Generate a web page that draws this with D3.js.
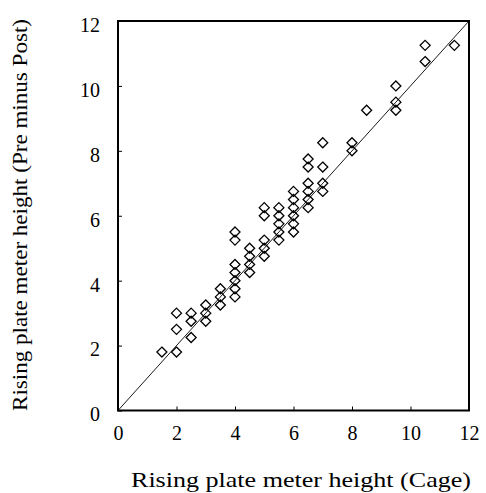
<!DOCTYPE html>
<html>
<head>
<meta charset="utf-8">
<script src="https://cdn.jsdelivr.net/npm/d3@7"></script>
<style>
body{margin:0;background:#fff;}
.tick text{font-family:"Liberation Serif",serif !important;font-size:20px !important;}
</style>
</head>
<body>
<svg id="chart" width="486" height="493"></svg>
<script>
// cage height vs pre-minus-post height
let cage=[1.5,2,2,2,2.5,2.5,2.5,3,3,3,3.5,3.5,3.5,4,4,4,4,4,4,4,4.5,4.5,4.5,4.5,5,5,5,5,5,5.5,5.5,5.5,5.5,5.5,6,6,6,6,6,6,6.5,6.5,6.5,6.5,6.5,6.5,7,7,7,7,8,8,8.5,9.5,9.5,9.5,10.5,10.5,11.5];
let preMinusPost=[1.8,1.8,2.5,3,2.25,2.75,3,2.75,3,3.25,3.25,3.5,3.75,3.5,3.75,4,4.25,4.5,5.25,5.5,4.25,4.5,4.75,5,4.75,5,5.25,6,6.25,5.25,5.5,5.75,6,6.25,5.5,5.75,6,6.25,6.5,6.75,6.25,6.5,6.75,7,7.5,7.75,6.75,7,7.5,8.25,8,8.25,9.25,9.25,9.5,10,10.75,11.25,11.25];
let ticks=[0,2,4,6,8,10,12];
let xTitle="Rising plate meter height (Cage)";
let yTitle="Rising plate meter height (Pre minus Post)";
const FONT="'Liberation Serif', 'Times New Roman', serif";

const render=()=>{
  let svg=d3.select("#chart");
  let x=d3.scaleLinear().domain([0,12]).range([118,469]);
  let y=d3.scaleLinear().domain([0,12]).range([410.5,21]);

  // 1:1 line
  svg.append("line")
    .attr("x1",x(0)).attr("y1",y(0))
    .attr("x2",x(12)).attr("y2",y(12))
    .attr("stroke","#000").attr("stroke-width",0.9);

  let pts=cage.map((c,i)=>({x:c,y:preMinusPost[i]}));
  svg.append("g")
    .selectAll("path")
    .data(pts)
    .enter()
      .append("path")
      .attr("transform",(d)=>`translate(${x(d.x)},${y(d.y)})`)
      .attr("d","M0,-5L5,0L0,5L-5,0Z")
      .attr("fill","none")
      .attr("stroke","#000")
      .attr("stroke-width",1.3);

  let xAxis=svg.append("g")
    .attr("transform",`translate(0,${y(0)})`)
    .call(d3.axisBottom(x).tickValues(ticks).tickSizeInner(-4).tickSizeOuter(0).tickPadding(15));
  let yAxis=svg.append("g")
    .attr("transform",`translate(${x(0)},0)`)
    .call(d3.axisLeft(y).tickValues(ticks).tickSizeInner(-4).tickSizeOuter(0).tickPadding(18));
  [xAxis,yAxis].forEach((a)=>{
    a.attr("font-family","Liberation Serif").attr("font-size",20);
    a.select(".domain").remove();
    a.selectAll("text").attr("fill","#000");
    a.selectAll("line").attr("stroke","#000");
  });
  yAxis.selectAll("text").attr("y",4);

  svg.append("rect")
    .attr("x",x(0)).attr("y",y(12))
    .attr("width",x(12)-x(0)).attr("height",y(0)-y(12))
    .attr("fill","none").attr("stroke","#000").attr("stroke-width",2);

  svg.append("text")
    .attr("x",301).attr("y",487)
    .attr("text-anchor","middle")
    .attr("textLength",340).attr("lengthAdjust","spacingAndGlyphs")
    .style("font-family",FONT).style("font-size","22px")
    .text(xTitle);
  svg.append("text")
    .attr("transform","translate(27,215) rotate(-90)")
    .attr("text-anchor","middle")
    .attr("textLength",392).attr("lengthAdjust","spacingAndGlyphs")
    .style("font-family",FONT).style("font-size","22px")
    .text(yTitle);
}

window.onload=render;
</script>
</body>
</html>
